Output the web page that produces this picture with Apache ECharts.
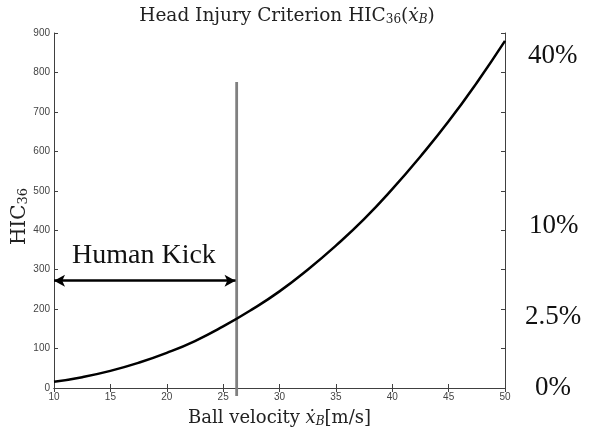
<!DOCTYPE html>
<html><head><meta charset="utf-8">
<script src="https://cdn.jsdelivr.net/npm/echarts@6/dist/echarts.min.js"></script>
<style>html,body{margin:0;padding:0;background:#fff}#c{width:590px;height:429px}</style>
</head><body><div id="c"></div>
<script>
// Data
const velocity = [10, 12.5, 15, 17.5, 20, 22.5, 25, 27.5, 30, 32.5, 35, 37.5, 40, 42.5, 45, 47.5, 50];
const hic36    = [15.7, 27.5, 43.4, 63.9, 89, 119, 156, 198, 245, 300, 361, 428, 504, 587, 676, 774, 880];
const kickVelocity = 26.2;
const kickLineY = [-20, 776];
const arrowY = 272;
const xTicks = [10, 15, 20, 25, 30, 35, 40, 45, 50];
const yTicks = [0, 100, 200, 300, 400, 500, 600, 700, 800, 900];
const riskLabels = ['40%', '10%', '2.5%', '0%'];

const serif = '"Liberation Serif","Times New Roman",serif';
const tex = '"DejaVu Serif",serif';
const chart = echarts.init(document.getElementById('c'));
const axisCommon = {
  axisLine: {show: true, lineStyle: {color: '#404040', width: 1}},
  axisTick: {show: true, inside: true, length: 4, lineStyle: {color: '#404040'}},
  splitLine: {show: false}
};
chart.setOption({
  animation: false,
  title: {
    text: 'Head Injury Criterion HIC{s|36}({i|ẋ}{si|B})',
    left: 282, textAlign: 'center', top: 2,
    textStyle: {fontFamily: tex, fontSize: 18.5, fontWeight: 'normal', color: '#222',
      rich: {s: {fontFamily: tex, fontSize: 12, padding: [7,0,0,0], color: '#222'},
             i: {fontFamily: tex, fontSize: 18.5, fontStyle: 'italic', color: '#222'},
             si: {fontFamily: tex, fontSize: 12, fontStyle: 'italic', padding: [7,0,0,0], color: '#222'}}}
  },
  grid: {left: 54, right: 85, top: 33, bottom: 41, containLabel: false, outerBoundsMode: 'none'},
  xAxis: [
    Object.assign({type: 'value', min: 10, max: 50, interval: 5, position: 'bottom',
      axisLabel: {fontFamily: 'Arial, "Liberation Sans", sans-serif', fontSize: 10, color: '#444', margin: 4,
        formatter: v => xTicks.includes(v) ? String(v) : ''},
      name: 'Ball velocity {i|ẋ}{s|B}[m/s]', nameLocation: 'middle', nameGap: 20,
      nameTextStyle: {fontFamily: tex, fontSize: 18, color: '#222',
        rich: {i: {fontFamily: tex, fontSize: 18, fontStyle: 'italic', color: '#222'},
               s: {fontFamily: tex, fontSize: 12, fontStyle: 'italic', padding: [8,0,0,0], color: '#222'}}}
    }, axisCommon),
    Object.assign({type: 'value', min: 10, max: 50, interval: 5, position: 'top', axisLabel: {show: false}}, axisCommon)
  ],
  yAxis: [
    Object.assign({type: 'value', min: 0, max: 900, interval: 100, position: 'left',
      axisLabel: {fontFamily: 'Arial, "Liberation Sans", sans-serif', fontSize: 10, color: '#444', margin: 4,
        formatter: v => yTicks.includes(v) ? String(v) : ''},
      name: 'HIC{s|36}', nameLocation: 'middle', nameGap: 24, nameRotate: 90, nameMoveOverlap: false,
      nameTextStyle: {fontFamily: tex, fontSize: 20, color: '#222', padding: [0, 12, 0, 0],
        rich: {s: {fontFamily: tex, fontSize: 13, padding: [8,0,0,0], color: '#222'}}}
    }, axisCommon),
    Object.assign({type: 'value', min: 0, max: 900, interval: 100, position: 'right', axisLabel: {show: false}}, axisCommon)
  ],
  series: [
    {type: 'line', smooth: true, symbol: 'none', data: velocity.map((v, i) => [v, hic36[i]]),
      lineStyle: {color: '#000', width: 2.5}, z: 3},
    {type: 'line', symbol: 'none', clip: false, data: [[kickVelocity, kickLineY[0]], [kickVelocity, kickLineY[1]]],
      lineStyle: {color: '#808080', width: 2.8}, z: 2,
      markLine: {silent: true, symbol: ['arrow', 'arrow'], symbolSize: [9, 11], label: {show: false},
        lineStyle: {color: '#000', width: 2.5, type: 'solid'},
        data: [[{coord: [10, arrowY]}, {coord: [kickVelocity - 0.1, arrowY]}]]}}
  ],
  graphic: [
    {type: 'text', x: 72, y: 256, style: {text: 'Human Kick', font: '28px ' + serif, fill: '#111', verticalAlign: 'middle'}},
    {type: 'text', x: 528, y: 56, style: {text: riskLabels[0], font: '27px ' + serif, fill: '#111', verticalAlign: 'middle'}},
    {type: 'text', x: 529, y: 226, style: {text: riskLabels[1], font: '27px ' + serif, fill: '#111', verticalAlign: 'middle'}},
    {type: 'text', x: 525, y: 317, style: {text: riskLabels[2], font: '27px ' + serif, fill: '#111', verticalAlign: 'middle'}},
    {type: 'text', x: 535, y: 388, style: {text: riskLabels[3], font: '27px ' + serif, fill: '#111', verticalAlign: 'middle'}}
  ]
});
</script></body></html>
